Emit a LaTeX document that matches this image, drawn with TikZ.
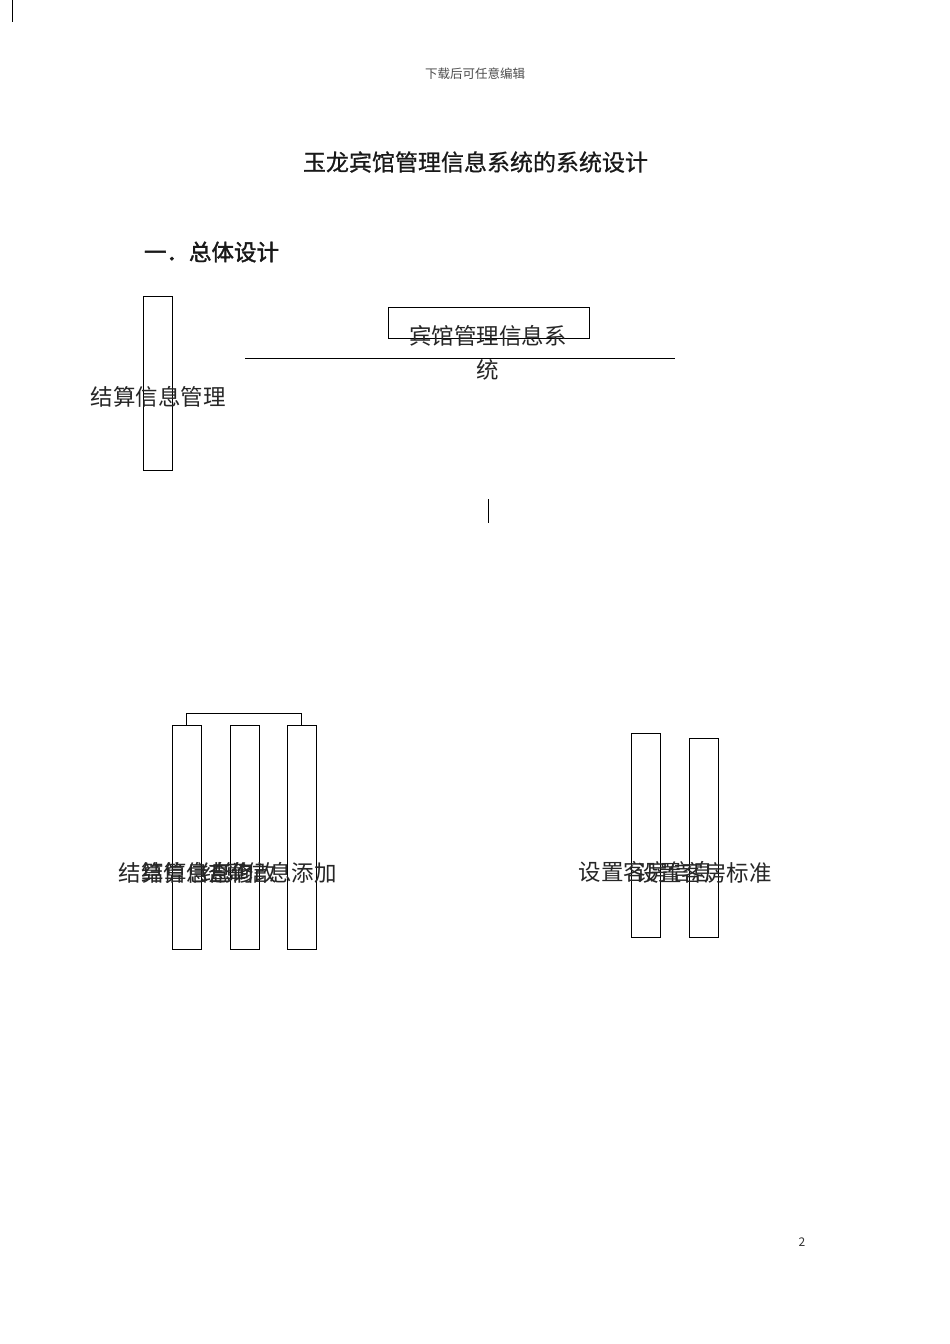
\documentclass[tikz,border=0pt]{standalone}
\usepackage{fontspec}
\setmainfont{Noto Sans CJK SC}
\newfontfamily\ttlfont[FakeBold=0.7]{Noto Sans CJK SC}
\newfontfamily\secfont[FakeBold=1.6]{Noto Sans CJK SC}
\begin{document}
\begin{tikzpicture}[x=1pt,y=-1pt,
  every node/.style={inner sep=0pt,outer sep=0pt},
  line/.style={draw=black,line width=0.9pt},
  vbox/.style={draw=black,line width=0.9pt,minimum width=29pt,fill=none},
  lbl/.style={font=\fontsize{22.5}{34}\selectfont,text=black!85},
  ttl/.style={font=\ttlfont\fontsize{23}{27}\selectfont,text=black!90},
  sect/.style={font=\secfont\fontsize{22.5}{27}\selectfont,text=black!90},
  hdr/.style={font=\fontsize{12.5}{15}\selectfont,text=black!70}]
\useasboundingbox (0,0) rectangle (950,1344);
\fill[white] (0,0) rectangle (950,1344);
% page marks
\coordinate (m1) at (12,0);
\coordinate (m2) at (12,22);
\draw[line] (m1) -- (m2);
\node[hdr] (hdr) at (475,74) {下载后可任意编辑};
\node[ttl] (title) at (475.5,162) {玉龙宾馆管理信息系统的系统设计};
\node[sect,anchor=west] (sec) at (144,252) {一．总体设计};
% top part
\node[vbox,minimum height=174pt] (mgmt) at (158,383) {};
\node[lbl] (mgmtl) at (158,397) {结算信息管理};
\node[draw=black,line width=0.9pt,minimum width=201pt,minimum height=31pt] (root) at (488.5,322.5) {};
\node[lbl,align=center] (rootl) at (488,353) {宾馆管理信息系\\统};
\coordinate (h1) at (245,358);
\coordinate (h2) at (675,358);
\draw[line] (h1) -- (h2);
\coordinate (v1) at (488,499);
\coordinate (v2) at (488,523);
\draw[line] (v1) -- (v2);
% bottom left group
\node[vbox,minimum height=224pt] (b1) at (186.5,837) {};
\node[vbox,minimum height=224pt] (b2) at (244.5,837) {};
\node[vbox,minimum height=224pt] (b3) at (301.5,837) {};
\draw[line] (b1.north) -- ++(0,-12) -| (b3.north);
\node[lbl] (l1) at (186,873) {结算信息查询};
\node[lbl] (l2) at (209,873) {结算信息修改};
\node[lbl] (l3) at (269,873) {结算信息添加};
% bottom right group
\node[vbox,minimum height=204pt] (r1) at (646,835) {};
\node[vbox,minimum height=199pt] (r2) at (703.5,837.5) {};
\node[lbl] (rl1) at (646,872) {设置客房信息};
\node[lbl] (rl2) at (704,873) {设置客房标准};
% page number
\node[font=\fontsize{12}{14}\selectfont,text=black!80] (pg) at (802,1242) {2};
\end{tikzpicture}
\end{document}
